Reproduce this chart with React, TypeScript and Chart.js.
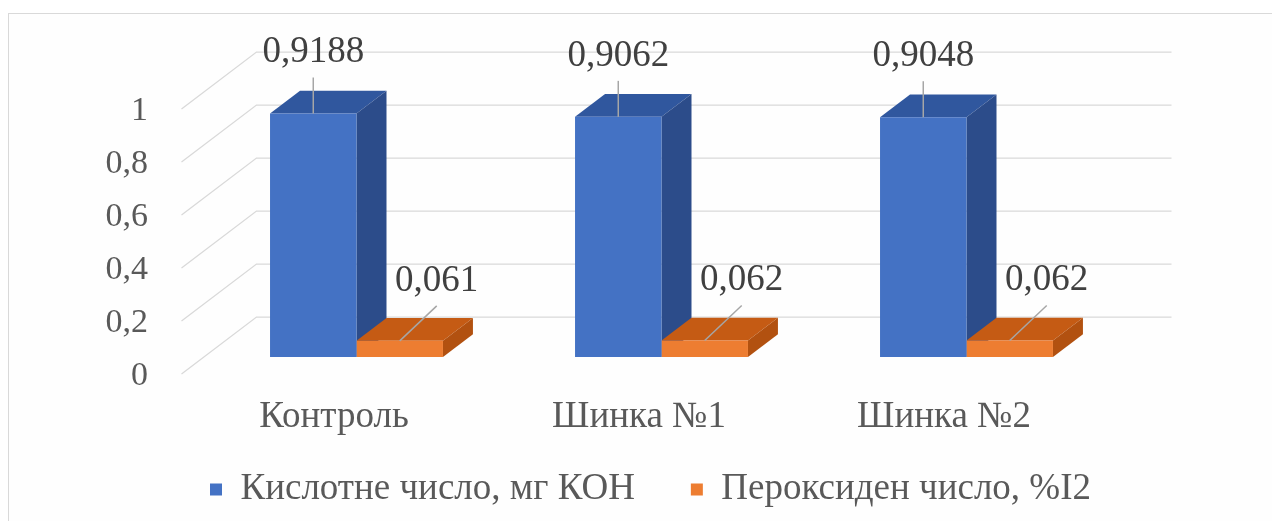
import React, { useEffect, useRef } from 'react';
import { Chart, registerables } from 'chart.js';

Chart.register(...registerables);

// ---- data ----
const categories = ['Контроль', 'Шинка №1', 'Шинка №2'];
const seriesNames = ['Кислотне число, мг КОН', 'Пероксиден число, %I2'];
const acidValues = [0.9188, 0.9062, 0.9048];
const peroxideValues = [0.061, 0.062, 0.062];
const yTickValues = [0, 0.2, 0.4, 0.6, 0.8, 1];

// ---- style ----
const FONT = "'Liberation Serif', 'Times New Roman', serif";
const TEXT = '#595959';
const LABEL_TEXT = '#404040';
const GRID = '#d9d9d9';
const DEPTH_X = 75;
const DEPTH_Y = -57;
const BAR_FRONT = 0.3;
const BAR_BACK = 0.7;
const frontColors = ['#4472C4', '#ED7D31'];
const topColors = ['#30579E', '#C55B14'];
const sideColors = ['#2C4C8A', '#B25110'];

const fmt = (v: number) => String(Math.round(v * 10000) / 10000).replace('.', ',');

function poly(ctx: CanvasRenderingContext2D, pts: number[][]) {
  ctx.beginPath();
  ctx.moveTo(pts[0][0], pts[0][1]);
  for (let i = 1; i < pts.length; i++) ctx.lineTo(pts[i][0], pts[i][1]);
  ctx.closePath();
  ctx.fill();
}

const depthPlugin = {
  id: 'depth3d',
  beforeDatasetsDraw(chart: any) {
    const { ctx, chartArea, scales } = chart;
    const y = scales.y;
    const fx = -BAR_FRONT * DEPTH_X;
    const fy = -BAR_FRONT * DEPTH_Y;
    const bx = (1 - BAR_FRONT) * DEPTH_X;
    const by = (1 - BAR_FRONT) * DEPTH_Y;
    ctx.save();
    ctx.strokeStyle = GRID;
    ctx.lineWidth = 1.3;
    for (const t of y.ticks) {
      const py = y.getPixelForValue(t.value);
      ctx.beginPath();
      ctx.moveTo(chartArea.left + fx, py + fy);
      ctx.lineTo(chartArea.left + bx, py + by);
      ctx.lineTo(chartArea.right + bx, py + by);
      ctx.stroke();
    }
    const dx = (BAR_BACK - BAR_FRONT) * DEPTH_X;
    const dy = (BAR_BACK - BAR_FRONT) * DEPTH_Y;
    chart.data.datasets.forEach((_ds: any, i: number) => {
      const meta = chart.getDatasetMeta(i);
      meta.data.forEach((bar: any) => {
        const { x, y: top, base, width } = bar.getProps(['x', 'y', 'base', 'width'], true);
        const l = x - width / 2;
        const r = x + width / 2;
        ctx.fillStyle = topColors[i];
        poly(ctx, [[l, top], [r, top], [r + dx, top + dy], [l + dx, top + dy]]);
        ctx.fillStyle = sideColors[i];
        poly(ctx, [[r, top], [r + dx, top + dy], [r + dx, base + dy], [r, base]]);
      });
    });
    ctx.restore();
  },
  afterDatasetsDraw(chart: any) {
    const { ctx } = chart;
    ctx.save();
    ctx.font = `37px ${FONT}`;
    ctx.textAlign = 'center';
    ctx.textBaseline = 'middle';
    chart.data.datasets.forEach((ds: any, i: number) => {
      const meta = chart.getDatasetMeta(i);
      meta.data.forEach((bar: any, j: number) => {
        const { x, y: top } = bar.getProps(['x', 'y'], true);
        const lx = i === 0 ? x : x + 37;
        const ly = i === 0 ? top - 61 : top - 60;
        ctx.strokeStyle = '#a6a6a6';
        ctx.lineWidth = 1.5;
        ctx.beginPath();
        ctx.moveTo(lx, ly + 25);
        ctx.lineTo(x, top);
        ctx.stroke();
        ctx.fillStyle = LABEL_TEXT;
        ctx.fillText(fmt(ds.data[j]), lx, ly);
      });
    });
    ctx.restore();
  },
};

export default function App() {
  const ref = useRef<HTMLCanvasElement | null>(null);
  useEffect(() => {
    if (!ref.current) return;
    const chart = new Chart(ref.current, {
      type: 'bar',
      data: {
        labels: categories,
        datasets: [
          { label: seriesNames[0], data: acidValues, backgroundColor: frontColors[0], borderWidth: 0 },
          { label: seriesNames[1], data: peroxideValues, backgroundColor: frontColors[1], borderWidth: 0 },
        ],
      },
      options: {
        responsive: false,
        animation: false,
        layout: { padding: { left: 29, right: 0, top: 92, bottom: 3 } },
        datasets: { bar: { categoryPercentage: 0.567, barPercentage: 1 } },
        scales: {
          x: {
            grid: { display: false },
            border: { display: false },
            ticks: {
              font: { family: FONT, size: 37 },
              color: TEXT,
              mirror: true,
              padding: -82,
              labelOffset: -22.5,
              maxRotation: 0,
              autoSkip: false,
            },
            afterFit: (s: any) => {
              s.height = 58;
            },
          },
          y: {
            min: 0,
            max: 1,
            grid: { display: false },
            border: { display: false },
            ticks: {
              font: { family: FONT, size: 34 },
              color: TEXT,
              padding: 48,
              labelOffset: 19,
              callback: (v: any) => fmt(Number(v)),
            },
            afterBuildTicks: (s: any) => {
              s.ticks = yTickValues.map((v) => ({ value: v }));
            },
            afterFit: (s: any) => {
              s.width = 175;
            },
          },
          yRight: {
            type: 'linear',
            axis: 'y',
            position: 'right',
            min: 0,
            max: 1,
            grid: { display: false },
            border: { display: false },
            ticks: { display: false },
            afterFit: (s: any) => {
              s.width = 153;
            },
          },
        },
        plugins: {
          legend: {
            position: 'bottom',
            labels: {
              boxWidth: 12,
              boxHeight: 12,
              padding: 56,
              color: TEXT,
              font: { family: FONT, size: 37 },
            },
          },
          tooltip: { enabled: false },
        },
      },
      plugins: [depthPlugin],
    } as any);
    return () => chart.destroy();
  }, []);

  return (
    <div style={{ position: 'fixed', left: 0, top: 0, width: 1272, height: 521, overflow: 'hidden', background: '#fff' }}>
      <div
        style={{
          position: 'absolute',
          left: 8,
          top: 13,
          width: 1400,
          height: 700,
          border: '1px solid #d9d9d9',
          background: '#fefefe',
        }}
      />
      <canvas
        ref={ref}
        width={1272}
        height={521}
        style={{ position: 'absolute', left: 0, top: 0, display: 'block' }}
      />
    </div>
  );
}
